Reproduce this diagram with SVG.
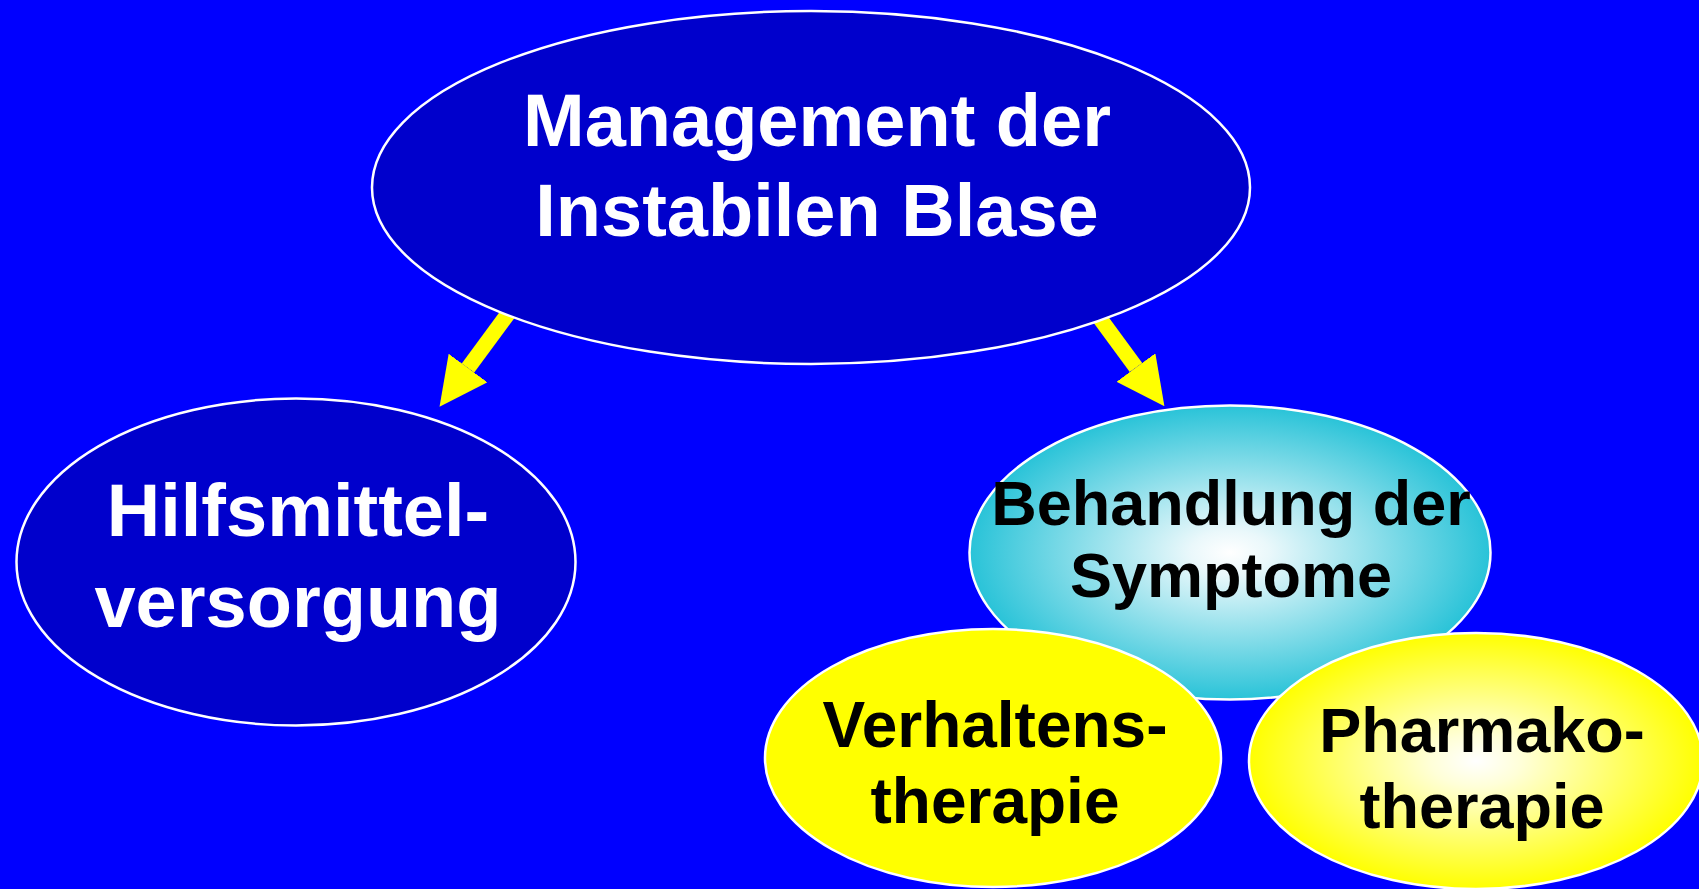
<svg xmlns="http://www.w3.org/2000/svg" width="1699" height="889" viewBox="0 0 1699 889">
<style>
.dark{fill:#0000CC;stroke:#FFFFFF;stroke-width:2.5}
.lt{stroke:#FFFFFF;stroke-width:2.5}
.wt{font-family:"Liberation Sans",Arial,sans-serif;font-weight:bold;fill:#FFFFFF;text-anchor:middle;font-size:74px}
.bt{font-family:"Liberation Sans",Arial,sans-serif;font-weight:bold;fill:#000000;text-anchor:middle;font-size:63px}
.arr{stroke:#FFFF00;stroke-width:15.5;fill:none}
</style>
<defs>
<radialGradient id="gCyan" cx="50%" cy="50%" r="50%">
<stop offset="0" stop-color="#FFFFFF"/>
<stop offset="0.15" stop-color="#EAF8FB"/>
<stop offset="1" stop-color="#29C3D8"/>
</radialGradient>
<radialGradient id="gYel" cx="50%" cy="50%" r="50%">
<stop offset="0" stop-color="#FFFFFF"/>
<stop offset="0.2" stop-color="#FFFFD8"/>
<stop offset="1" stop-color="#FFFF00"/>
</radialGradient>
<marker id="head" viewBox="0 0 48 48" refX="0" refY="24" markerWidth="48" markerHeight="48" markerUnits="userSpaceOnUse" orient="auto">
<path d="M0,0 L48,24 L0,48 z" fill="#FFFF00"/>
</marker>
</defs>
<rect x="0" y="0" width="1699" height="889" fill="#0000FF"/>
<g id="connectors">
<line class="arr" x1="512.5" y1="307.6" x2="468" y2="368" marker-end="url(#head)"/>
<line class="arr" x1="1094.5" y1="311" x2="1136" y2="367.5" marker-end="url(#head)"/>
</g>
<g id="node-management">
<ellipse class="dark" cx="811" cy="187.5" rx="439" ry="176.5"/>
<text class="wt" x="817" y="146">Management der</text>
<text class="wt" x="817" y="236">Instabilen Blase</text>
</g>
<g id="node-hilfsmittel">
<ellipse class="dark" cx="296" cy="562" rx="279.5" ry="163.5"/>
<text class="wt" x="298" y="536">Hilfsmittel-</text>
<text class="wt" x="298" y="627">versorgung</text>
</g>
<g id="node-behandlung">
<ellipse class="lt" fill="url(#gCyan)" cx="1230" cy="552.5" rx="260.5" ry="147"/>
<text class="bt" x="1231" y="525">Behandlung der</text>
<text class="bt" x="1231" y="597">Symptome</text>
</g>
<g id="node-verhaltens">
<ellipse class="lt" fill="#FFFF00" cx="993" cy="758" rx="228" ry="129"/>
<text class="bt" x="995" y="747" style="font-size:64px">Verhaltens-</text>
<text class="bt" x="995" y="823" style="font-size:64px">therapie</text>
</g>
<g id="node-pharmako">
<ellipse class="lt" fill="url(#gYel)" cx="1476" cy="761" rx="227" ry="128"/>
<text class="bt" x="1482" y="752">Pharmako-</text>
<text class="bt" x="1482" y="828">therapie</text>
</g>
</svg>
